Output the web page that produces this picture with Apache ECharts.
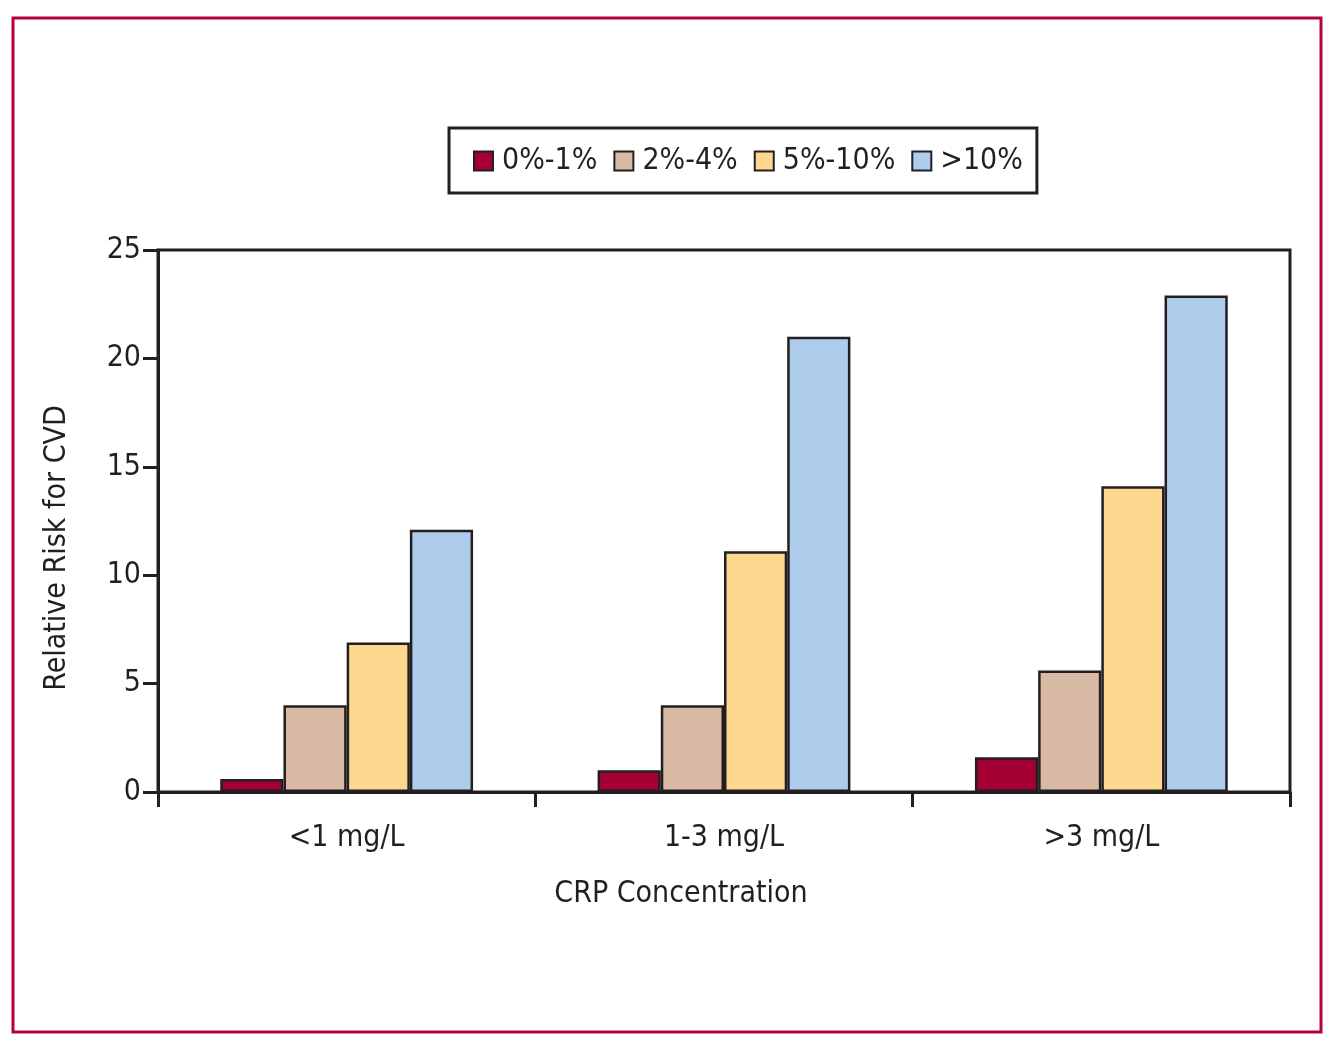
<!DOCTYPE html>
<html>
<head>
<meta charset="utf-8">
<script src="https://cdn.jsdelivr.net/npm/echarts@6/dist/echarts.min.js"></script>
<style>
html,body{margin:0;padding:0;background:#fff;}
#c{width:1334px;height:1042px;}
</style>
</head>
<body>
<div id="c"></div>
<script>
const categories = ['<1 mg/L', '1-3 mg/L', '>3 mg/L'];
const seriesNames = ['0%-1%', '2%-4%', '5%-10%', '>10%'];
const risk0to1 = [0.6, 1.0, 1.6];
const risk2to4 = [4.0, 4.0, 5.6];
const risk5to10 = [6.9, 11.1, 14.1];
const riskOver10 = [12.1, 21.0, 22.9];
const yTicks = [0, 5, 10, 15, 20, 25];

const colors = ['#a50034', '#d8b9a4', '#fed88f', '#aecdec'];
const FONT = "'Liberation Sans Narrow', 'DejaVu Sans', sans-serif";
const FW = 'condensed';
const INK = '#231f20';

const chart = echarts.init(document.getElementById('c'));
const values = [risk0to1, risk2to4, risk5to10, riskOver10];
const txt = (size) => ({ fontFamily: FONT, fontWeight: FW, fontSize: size, color: INK });

chart.setOption({
  animation: false,
  backgroundColor: '#fff',
  grid: {
    left: 158, top: 250, right: 44, bottom: 250,
    show: true, borderColor: INK, borderWidth: 3, backgroundColor: 'transparent'
  },
  legend: {
    left: 449, top: 128,
    padding: [18, 14, 17, 24],
    borderColor: INK, borderWidth: 3,
    itemWidth: 19, itemHeight: 19, itemGap: 16,
    icon: 'rect',
    textStyle: Object.assign(txt(30), { padding: [0, 0, 0, 4] }),
    data: seriesNames
  },
  xAxis: {
    type: 'category',
    data: categories,
    axisLine: { lineStyle: { color: INK, width: 3 } },
    axisTick: { show: true, length: 15, lineStyle: { color: INK, width: 3 } },
    axisLabel: Object.assign(txt(30), { margin: 31 }),
    splitLine: { show: false }
  },
  yAxis: {
    type: 'value',
    min: yTicks[0], max: yTicks[yTicks.length - 1], interval: 5,
    axisLine: { show: true, lineStyle: { color: INK, width: 3 } },
    axisTick: { show: true, length: 15, lineStyle: { color: INK, width: 3 } },
    axisLabel: Object.assign(txt(30), { margin: 17 }),
    splitLine: { show: false }
  },
  series: seriesNames.map((name, i) => ({
    name: name,
    type: 'bar',
    data: values[i],
    barGap: '0%',
    barCategoryGap: '33%',
    itemStyle: { color: colors[i], borderColor: INK, borderWidth: 2.5 }
  })),
  graphic: [
    {
      type: 'rect', z: 100, silent: true,
      shape: { x: 13, y: 18, width: 1308, height: 1014 },
      style: { fill: 'none', stroke: '#b5003a', lineWidth: 3 }
    },
    {
      type: 'text', z: 100,
      x: 57, y: 548, rotation: Math.PI / 2,
      style: {
        text: 'Relative Risk for CVD', fontFamily: FONT, fontWeight: FW, fontSize: 30, fill: INK,
        align: 'center', verticalAlign: 'middle'
      }
    },
    {
      type: 'text', z: 100,
      x: 681, y: 894,
      style: {
        text: 'CRP Concentration', fontFamily: FONT, fontWeight: FW, fontSize: 30, fill: INK,
        align: 'center', verticalAlign: 'middle'
      }
    }
  ]
});
</script>
</body>
</html>
